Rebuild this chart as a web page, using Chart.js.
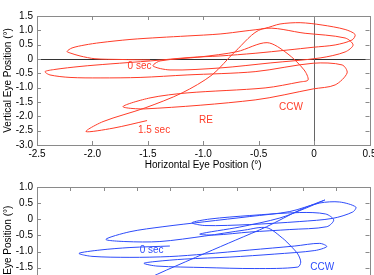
<!DOCTYPE html>
<html>
<head>
<meta charset="utf-8">
<script src="https://cdn.jsdelivr.net/npm/chart.js@4"></script>
<style>
  html, body { margin: 0; padding: 0; background: #fff; overflow: hidden; }
  #wrap { position: relative; width: 374px; height: 275px; overflow: hidden; }
  .box { position: absolute; left: 0; width: 374px; }
</style>
</head>
<body>
<div id="wrap">
  <div class="box" style="top:0;height:172px"><canvas id="reChart"></canvas></div>
  <div class="box" style="top:172px;height:184px"><canvas id="leChart"></canvas></div>
</div>
<script>
// top panel (RE), red trace, time 0 -> 1.5 sec
const redX = [-1.480, -1.751, -1.977, -2.112, -2.202, -2.229, -2.184, -2.067, -1.931, -1.661,
  -1.390, -1.146, -0.848, -0.623, -0.442, -0.307, -0.126, 0.072, 0.280, 0.370,
  0.343, 0.190, -0.009, -0.235, -0.532, -0.848, -1.119, -1.480, -1.841, -2.112,
  -2.338, -2.428, -2.383, -2.202, -1.931, -1.570, -1.146, -0.532, -0.009, 0.253,
  0.298, 0.190, -0.009, -0.532, -1.525, -1.724, -1.480, -1.146, -0.442, -0.126,
  -0.054, -0.090, -0.244, -0.424, -0.695, -1.029, -1.390, -1.453, -1.300, -0.848,
  -0.397, 0.054, 0.280, 0.352, 0.280, -0.081, -0.469, -0.713, -0.921, -1.191,
  -1.525, -1.904, -2.058, -1.814, -1.507];
const redY = [-0.033, -0.016, 0.009, 0.106, 0.211, 0.263, 0.385, 0.490, 0.570, 0.681,
  0.751, 0.803, 0.873, 0.977, 1.071, 1.221, 1.267, 1.186, 1.030, 0.855,
  0.664, 0.490, 0.409, 0.315, 0.200, 0.106, 0.054, -0.068, -0.172, -0.260,
  -0.364, -0.441, -0.556, -0.643, -0.660, -0.643, -0.556, -0.441, -0.148, -0.207,
  -0.486, -0.904, -1.044, -1.427, -1.740, -1.660, -1.357, -1.183, -1.009, -0.800,
  -0.730, -0.382, 0.200, 0.570, 0.256, 0.071, -0.068, -0.242, -0.382, -0.312,
  -0.138, 0.037, 0.246, 0.490, 0.733, 0.897, 1.047, 0.256, -0.556, -1.183,
  -1.706, -2.183, -2.531, -2.413, -2.148];

// bottom panel, blue trace
const blueX = [-1.001, -1.301, -1.527, -1.684, -1.587, -1.301, -1.001, -0.738, -0.400, -0.062,
  0.126, 0.179, 0.089, -0.212, -0.550, -0.888, -1.113, -1.196, -1.098, -0.738,
  -0.362, -0.039, -0.017, -0.039, -0.092, -0.152, -0.272, -0.437, -0.738, -1.076,
  -1.339, -1.482, -1.301, -1.053, -0.738, -0.400, -0.099, 0.126, 0.276, 0.397,
  0.374, 0.224, -0.024, -0.400, -0.738, -0.835, -0.700, -0.400, -0.024, 0.171,
  0.231, 0.179, -0.099, -0.400, -0.663, -0.775, -0.475, -0.174, 0.014, 0.164,
  -0.024, -0.274, -0.505, -0.738, -1.026, -1.301, -1.452, -1.226];
const blueY = [-0.829, -0.876, -0.953, -1.056, -1.149, -1.180, -1.155, -1.078, -0.953, -0.829,
  -0.746, -0.845, -0.969, -1.078, -1.171, -1.233, -1.310, -1.366, -1.450, -1.496,
  -1.527, -1.481, -1.326, -1.078, -0.829, -0.591, -0.262, -0.333, -0.519, -0.690,
  -0.690, -0.622, -0.386, -0.231, -0.076, 0.085, 0.240, 0.504, 0.535, 0.380,
  0.225, 0.029, -0.070, -0.163, -0.194, -0.107, 0.008, 0.116, 0.209, 0.163,
  -0.023, -0.231, -0.318, -0.395, -0.488, -0.457, -0.240, 0.039, 0.333, 0.597,
  0.287, -0.231, -0.643, -1.056, -1.574, -2.070, -2.194, -2.132];

const topXTicks = [-2.5, -2, -1.5, -1, -0.5, 0, 0.5];
const topYTicks = [1.5, 1, 0.5, 0, -0.5, -1, -1.5, -2, -2.5, -3];
const botXTicks = [-2, -1.75, -1.5, -1.25, -1, -0.75, -0.5, -0.25, 0, 0.25, 0.5];
const botYTicks = [1, 0.5, 0, -0.5, -1, -1.5, -2, -2.5, -3];

const RED = 'rgb(255,60,40)';
const BLUE = 'rgb(45,75,250)';
const FRAME = '#8a8a8a';
const FONT = { family: 'Liberation Sans, Arial, sans-serif', size: 10 };

// frame, inward ticks, zero lines and text notes
const matlabAxes = {
  id: 'matlabAxes',
  beforeDatasetsDraw(chart, args, opts) {
    if (!opts.zeroLines) return;
    const { ctx, chartArea: a, scales: { x, y } } = chart;
    ctx.save();
    ctx.lineWidth = 1;
    ctx.strokeStyle = '#333';
    const py = Math.round(y.getPixelForValue(0)) + 0.5;
    ctx.beginPath(); ctx.moveTo(a.left, py); ctx.lineTo(a.right, py); ctx.stroke();
    ctx.strokeStyle = '#666';
    const px = Math.round(x.getPixelForValue(0)) + 0.5;
    ctx.beginPath(); ctx.moveTo(px, a.top); ctx.lineTo(px, a.bottom); ctx.stroke();
    ctx.restore();
  },
  afterDraw(chart, args, opts) {
    const { ctx, chartArea: a, scales: { x, y } } = chart;
    ctx.save();
    ctx.strokeStyle = FRAME;
    ctx.lineWidth = 1;
    ctx.strokeRect(Math.round(a.left) + 0.5, Math.round(a.top) + 0.5,
      Math.round(a.right - a.left), Math.round(a.bottom - a.top));
    ctx.beginPath();
    x.ticks.forEach(t => {
      const px = Math.round(x.getPixelForValue(t.value)) + 0.5;
      ctx.moveTo(px, a.top); ctx.lineTo(px, a.top + 4);
      ctx.moveTo(px, a.bottom); ctx.lineTo(px, a.bottom - 4);
    });
    y.ticks.forEach(t => {
      const py = Math.round(y.getPixelForValue(t.value)) + 0.5;
      ctx.moveTo(a.left, py); ctx.lineTo(a.left + 4, py);
      ctx.moveTo(a.right, py); ctx.lineTo(a.right - 4, py);
    });
    ctx.stroke();
    ctx.fillStyle = opts.color;
    ctx.font = '10px ' + FONT.family;
    ctx.textAlign = 'center';
    ctx.textBaseline = 'middle';
    (opts.notes || []).forEach(n => {
      ctx.fillText(n.text, x.getPixelForValue(n.x), y.getPixelForValue(n.y));
    });
    ctx.restore();
  }
};

function setTicks(arr) {
  return scale => { scale.ticks = arr.map(v => ({ value: v })); };
}

function makePanel(id, xs, ys, color, xr, yr, xTicks, yTicks, padTop, extra) {
  new Chart(document.getElementById(id), {
    type: 'scatter',
    data: {
      datasets: [{
        data: xs.map((v, i) => ({ x: v, y: ys[i] })),
        showLine: true,
        borderColor: color,
        borderWidth: 1,
        pointRadius: 0,
        tension: 0.3,
        fill: false
      }]
    },
    options: {
      responsive: true,
      maintainAspectRatio: false,
      animation: false,
      layout: { padding: { left: 0, right: 4.5, top: padTop, bottom: 0 } },
      plugins: {
        legend: { display: false },
        tooltip: { enabled: false },
        matlabAxes: extra
      },
      scales: {
        x: {
          type: 'linear', min: xr[0], max: xr[1],
          afterBuildTicks: setTicks(xTicks),
          afterFit: s => { s.height = 27; s.paddingLeft = 0; s.paddingRight = 0; },
          grid: { display: false, drawTicks: false },
          border: { display: false },
          ticks: { color: '#000', font: FONT, padding: 3, maxRotation: 0, autoSkip: false },
          title: { display: true, text: 'Horizontal Eye Position (°)', color: '#000', font: FONT, padding: { top: 0, bottom: 1 } }
        },
        y: {
          type: 'linear', min: yr[0], max: yr[1],
          afterBuildTicks: setTicks(yTicks),
          afterFit: s => { s.width = 37; s.paddingTop = 0; s.paddingBottom = 0; },
          grid: { display: false, drawTicks: false },
          border: { display: false },
          ticks: { color: '#000', font: FONT, padding: 4, autoSkip: false },
          title: { display: true, text: 'Vertical Eye Position (°)', color: '#000', font: FONT, padding: { top: 2, bottom: 0 } }
        }
      }
    },
    plugins: [matlabAxes]
  });
}

makePanel('reChart', redX, redY, RED, [-2.5, 0.5], [-3, 1.5], topXTicks, topYTicks, 16, {
  zeroLines: true,
  color: RED,
  notes: [
    { text: '0 sec', x: -1.575, y: -0.242 },
    { text: '1.5 sec', x: -1.444, y: -2.472 },
    { text: 'RE', x: -0.975, y: -2.124 },
    { text: 'CCW', x: -0.208, y: -1.671 }
  ]
});

makePanel('leChart', blueX, blueY, BLUE, [-2, 0.5], [-3.4, 1], botXTicks, botYTicks, 15, {
  zeroLines: false,
  color: BLUE,
  notes: [
    { text: '0 sec', x: -1.138, y: -0.953 },
    { text: 'CCW', x: 0.145, y: -1.502 }
  ]
});
</script>
</body>
</html>
